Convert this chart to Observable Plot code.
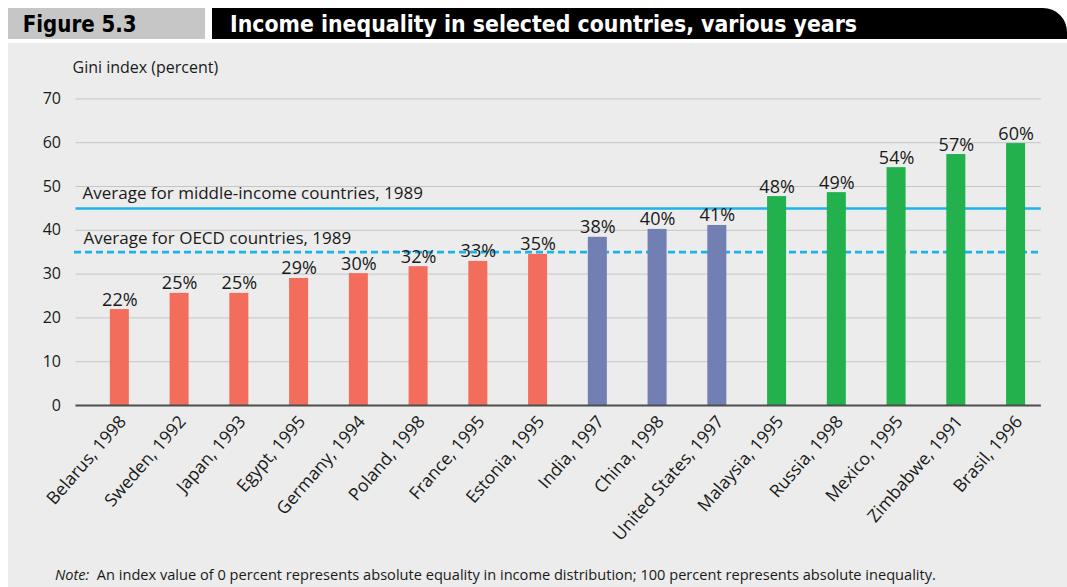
<!DOCTYPE html>
<html>
<head>
<meta charset="utf-8">
<script src="https://cdn.jsdelivr.net/npm/d3@7"></script>
<script src="https://cdn.jsdelivr.net/npm/@observablehq/plot@0.6"></script>
<style>
  html, body { margin: 0; padding: 0; background: #ffffff; }
  body { width: 1067px; height: 587px; position: relative; overflow: hidden; font-family: "Open Sans", sans-serif; }
  #figbox { position: absolute; left: 8px; top: 8px; width: 197px; height: 31px; background: #c6c6c6; }
  #titlebox { position: absolute; left: 212px; top: 8px; width: 855px; height: 31px; background: #000; border-top-right-radius: 24px; }
  #panel { position: absolute; left: 8px; top: 43px; width: 1059px; height: 544px; background: #ebeceb; }
  #header { position: absolute; left: 0; top: 0; }
  #chart { position: absolute; left: 0; top: 0; }
  #note { position: absolute; left: 55px; top: 564px; font-size: 14.6px; line-height: 20px; color: #1a1a1a; white-space: pre; }
</style>
</head>
<body>
<div id="figbox"></div>
<div id="titlebox"></div>
<div id="panel"></div>
<svg id="header" width="1067" height="43">
  <text x="22.7" y="31.7" font-family="DejaVu Sans Condensed, DejaVu Sans" font-weight="bold" font-size="22.5" textLength="114" lengthAdjust="spacingAndGlyphs" fill="#000">Figure 5.3</text>
  <text x="230" y="31.5" font-family="DejaVu Sans Condensed, DejaVu Sans" font-weight="bold" font-size="23" textLength="627" lengthAdjust="spacingAndGlyphs" fill="#fff">Income inequality in selected countries, various years</text>
</svg>
<div id="chart"></div>
<div id="note"><i>Note:</i>  An index value of 0 percent represents absolute equality in income distribution; 100 percent represents absolute inequality.</div>
<script>
const countries = ["Belarus, 1998", "Sweden, 1992", "Japan, 1993", "Egypt, 1995", "Germany, 1994", "Poland, 1998", "France, 1995", "Estonia, 1995", "India, 1997", "China, 1998", "United States, 1997", "Malaysia, 1995", "Russia, 1998", "Mexico, 1995", "Zimbabwe, 1991", "Brasil, 1996"];
const gini = [21.9, 25.6, 25.6, 29.0, 30.1, 31.7, 32.9, 34.5, 38.4, 40.2, 41.1, 47.7, 48.6, 54.3, 57.3, 59.8];
const valueLabels = ["22%", "25%", "25%", "29%", "30%", "32%", "33%", "35%", "38%", "40%", "41%", "48%", "49%", "54%", "57%", "60%"];
const groups = ["low", "low", "low", "low", "low", "low", "low", "low", "mid", "mid", "mid", "high", "high", "high", "high", "high"];
const groupDomain = ["low", "mid", "high"];
const groupColors = ["#f26d5b", "#717fb3", "#22b14c"];
const yTicks = [0, 10, 20, 30, 40, 50, 60, 70];
const refLines = [
  {value: 45, label: "Average for middle-income countries, 1989", dashed: false},
  {value: 35, label: "Average for OECD countries, 1989", dashed: true}
];
const yTitle = "Gini index (percent)";

const data = countries.map((c, i) => ({country: c, value: gini[i], label: valueLabels[i], group: groups[i]}));
const cyan = "#1ab4ea";

const chart = Plot.plot({
  width: 1067,
  height: 587,
  marginTop: 98.4,
  marginBottom: 182,
  marginLeft: 75.5,
  marginRight: 26.2,
  style: {background: "transparent", color: "#1a1a1a", fontFamily: "Open Sans, sans-serif", overflow: "visible"},
  x: {type: "band", domain: countries, paddingInner: 0.682, paddingOuter: 0.419, align: 0.686, round: false},
  y: {domain: [0, 70]},
  color: {domain: groupDomain, range: groupColors},
  marks: [
    Plot.gridY(yTicks, {stroke: "#c6c6c6", strokeOpacity: 1, strokeWidth: 1}),
    Plot.axisY(yTicks, {tickSize: 0, tickPadding: 15, fontSize: 16, label: null}),
    Plot.axisX({tickSize: 0, tickRotate: -49, fontSize: 17.5, tickPadding: 13, dx: 3, label: null}),
    Plot.ruleY(refLines.filter(d => !d.dashed), {y: "value", stroke: cyan, strokeWidth: 2.5}),
    Plot.ruleY(refLines.filter(d => d.dashed), {y: "value", stroke: cyan, strokeWidth: 2.7, strokeDasharray: "7,4", dx: -1.5}),
    Plot.text(refLines.filter(d => !d.dashed), {y: "value", text: "label", frameAnchor: "left", textAnchor: "start", lineAnchor: "bottom", dx: 6.5, dy: -9, fontSize: 17, fill: "#1a1a1a"}),
    Plot.text(refLines.filter(d => d.dashed), {y: "value", text: "label", frameAnchor: "left", textAnchor: "start", lineAnchor: "bottom", dx: 7.5, dy: -8, fontSize: 17, fill: "#1a1a1a"}),
    Plot.barY(data, {x: "country", y: "value", fill: "group"}),
    Plot.text(data, {x: "country", y: "value", text: "label", lineAnchor: "bottom", dy: -4, fontSize: 18, fill: "#1a1a1a"}),
    Plot.ruleY([0], {stroke: "#4d4d4d", strokeWidth: 2}),
    Plot.text([yTitle], {frameAnchor: "top-left", textAnchor: "start", lineAnchor: "bottom", dx: -3.5, dy: -25.7, fontSize: 16, fill: "#1a1a1a"})
  ]
});
document.getElementById("chart").appendChild(chart);
</script>
</body>
</html>
